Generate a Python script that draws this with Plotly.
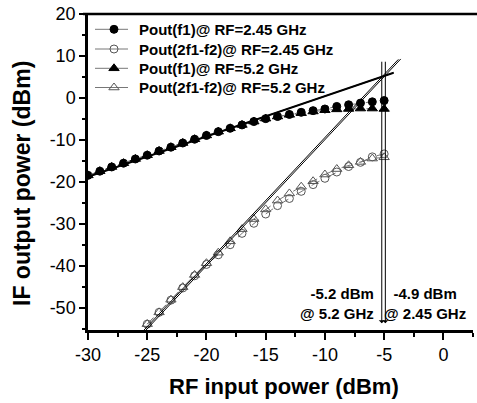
import plotly.graph_objects as go

# ---------------- data ----------------
x_f1 = list(range(-30, -4))  # -30 .. -5
f1_245 = [-18.4, -17.4, -16.4, -15.5, -14.5, -13.6, -12.6, -11.7, -10.7, -9.8,
          -8.9, -8.0, -7.2, -6.4, -5.6, -4.9, -4.4, -3.9, -3.4, -3.0,
          -2.6, -2.0, -1.6, -1.2, -0.9, -0.6]
f1_52 = [-18.4, -17.4, -16.4, -15.5, -14.5, -13.6, -12.6, -11.7, -10.7, -9.8,
         -8.9, -8.0, -7.2, -6.4, -5.6, -4.9, -4.4, -4.0, -3.6, -3.2,
         -2.9, -2.7, -2.6, -2.5, -2.5, -2.6]

x_imd = list(range(-25, -4))  # -25 .. -5
imd_245 = [-53.8, -51.0, -48.1, -45.2, -42.3, -39.6, -37.3, -34.9, -32.2, -29.8,
           -27.6, -25.6, -23.9, -22.2, -20.6, -19.1, -17.6, -16.3, -15.3, -14.0, -13.3]
imd_52 = [-53.8, -51.0, -48.0, -45.0, -42.1, -39.3, -36.8, -34.1, -31.2, -28.8,
          -26.5, -24.4, -22.7, -21.1, -19.8, -18.2, -16.9, -16.0, -15.2, -14.4, -14.1]

# extrapolation (fit) parameters: intercept point (IIP3, OIP3) and slopes
iip3 = {"2.45": -4.9, "5.2": -5.2}
oip3 = {"2.45": 5.4, "5.2": 5.0}
slope_f1 = 0.96
slope_imd = 3.0
fit_f1_x = [-30, -4.2]
fit_imd_x = {"2.45": [-25.2, -3.6], "5.2": [-25.4, -3.8]}
arrow_top = 9.0

labels = ["Pout(f1)@ RF=2.45 GHz", "Pout(2f1-f2)@ RF=2.45 GHz",
          "Pout(f1)@ RF=5.2 GHz", "Pout(2f1-f2)@ RF=5.2 GHz"]

x_ticks = [-30, -25, -20, -15, -10, -5, 0]
y_ticks = [20, 10, 0, -10, -20, -30, -40, -50]
x_range = [-30, 2.5]
y_range = [-55.2, 20]

FONT = "Liberation Sans, Arial, sans-serif"
GRAY = "#777777"
OPEN = "#555555"

# plot-area size in px (for the hand-made legend overlay)
PW, PH = 385, 316

series_styles = [
    dict(symbol="circle", size=8, color="black"),
    dict(symbol="circle-open", size=8, color=OPEN),
    dict(symbol="triangle-up", size=9, color="black"),
    dict(symbol="triangle-up-open", size=9, color=OPEN),
]
series_x = [x_f1, x_imd, x_f1, x_imd]
series_y = [f1_245, imd_245, f1_52, imd_52]

fig = go.Figure()

line_style = dict(color=GRAY, width=1, dash="dash")
for i in range(4):
    st = series_styles[i]
    fig.add_trace(go.Scatter(x=series_x[i], y=series_y[i], mode="lines+markers",
                             name=labels[i], line=line_style,
                             marker=dict(symbol=st["symbol"], size=st["size"],
                                         color=st["color"],
                                         line=dict(color=st["color"], width=1))))

# fit lines
for key in ["2.45", "5.2"]:
    x0, y0 = iip3[key], oip3[key]
    xs = fit_f1_x
    fig.add_trace(go.Scatter(x=xs, y=[y0 + slope_f1 * (v - x0) for v in xs],
                             mode="lines", line=dict(color="black", width=1.6),
                             showlegend=False, hoverinfo="skip"))
    xs = fit_imd_x[key]
    fig.add_trace(go.Scatter(x=xs, y=[y0 + slope_imd * (v - x0) for v in xs],
                             mode="lines", line=dict(color="black", width=1),
                             showlegend=False, hoverinfo="skip"))

annotations = []

# hand-made legend (pixel overlay axes)
leg_rows_y = [29.3, 49.0, 68.3, 87.5]     # px from top of figure
leg_line_x = [95, 128]                    # px from left of figure
leg_mark_x = 114
leg_text_x = 137
for i in range(4):
    Y = (330 - leg_rows_y[i])
    st = series_styles[i]
    fig.add_trace(go.Scatter(x=[leg_line_x[0] - 88, leg_line_x[1] - 88], y=[Y, Y],
                             xaxis="x2", yaxis="y2", mode="lines",
                             line=dict(color=GRAY, width=1),
                             showlegend=False, hoverinfo="skip"))
    fig.add_trace(go.Scatter(x=[leg_mark_x - 88], y=[Y], xaxis="x2", yaxis="y2",
                             mode="markers",
                             marker=dict(symbol=st["symbol"], size=st["size"],
                                         color=st["color"],
                                         line=dict(color=st["color"], width=1)),
                             showlegend=False, hoverinfo="skip"))
    annotations.append(dict(x=(leg_text_x - 88) / PW, y=Y / PH, xref="paper", yref="paper",
                            text=labels[i], showarrow=False, xanchor="left",
                            yanchor="middle",
                            font=dict(family=FONT, size=15, color="black", weight="bold")))

for key in ["2.45", "5.2"]:
    annotations.append(dict(x=iip3[key], y=-53.6, xref="x", yref="y",
                            ax=iip3[key], ay=arrow_top, axref="x", ayref="y",
                            showarrow=True, arrowhead=1, arrowsize=1, arrowwidth=1,
                            arrowcolor="black", text=""))

annotations.append(dict(x=-5.68, y=-48.9, xref="x", yref="y", showarrow=False,
                        text="-5.2 dBm<br>@ 5.2 GHz", xanchor="right", align="right",
                        font=dict(family=FONT, size=15, color="black", weight="bold")))
annotations.append(dict(x=-1.55, y=-48.9, xref="x", yref="y", showarrow=False,
                        text="-4.9 dBm<br>@ 2.45 GHz", xanchor="center", align="center",
                        font=dict(family=FONT, size=15, color="black", weight="bold")))

# axis titles
annotations.append(dict(x=(284 - 88) / PW, y=(330 - 386) / PH, xref="paper", yref="paper",
                        text="RF input power (dBm)", showarrow=False,
                        xanchor="center", yanchor="middle",
                        font=dict(family=FONT, size=22, color="black", weight="bold")))
annotations.append(dict(x=(21.5 - 88) / PW, y=(330 - 183.5) / PH, xref="paper", yref="paper",
                        text="IF output power (dBm)", showarrow=False, textangle=-90,
                        xanchor="center", yanchor="middle",
                        font=dict(family=FONT, size=23, color="black", weight="bold")))

fig.update_layout(
    width=477, height=403,
    margin=dict(l=88, r=4, t=14, b=73, autoexpand=False),
    paper_bgcolor="white", plot_bgcolor="white",
    font=dict(family=FONT, color="black"),
    showlegend=False,
    annotations=annotations,
    shapes=[dict(type="line", xref="paper", yref="paper", x0=-0.013, x1=1.02, y0=1, y1=1,
                 line=dict(color="black", width=2.5))],
    xaxis2=dict(overlaying="x", range=[0, PW], visible=False, fixedrange=True),
    yaxis2=dict(overlaying="y", range=[0, PH], visible=False, fixedrange=True),
    xaxis=dict(range=x_range, tickvals=x_ticks, ticktext=[str(v) for v in x_ticks],
               showgrid=False, zeroline=False, showline=True, linecolor="black",
               automargin=False,
               linewidth=2.5, ticks="outside", ticklen=7, tickwidth=2, tickcolor="black",
               minor=dict(dtick=2.5, ticks="outside", ticklen=4, tickwidth=2,
                          tickcolor="black", showgrid=False),
               tickfont=dict(family=FONT, size=18, color="black")),
    yaxis=dict(range=y_range, tickvals=y_ticks, ticktext=[str(v) for v in y_ticks],
               showgrid=False, zeroline=False, showline=True, linecolor="black",
               automargin=False,
               linewidth=2.5, ticks="outside", ticklen=6, tickwidth=2, tickcolor="black",
               minor=dict(dtick=5, tick0=0, ticks="outside", ticklen=3, tickwidth=2,
                          tickcolor="black", showgrid=False),
               tickfont=dict(family=FONT, size=18, color="black")),
)

fig.write_html("out.html", config={"displayModeBar": False},
               post_script="document.body.style.margin='0px';")
